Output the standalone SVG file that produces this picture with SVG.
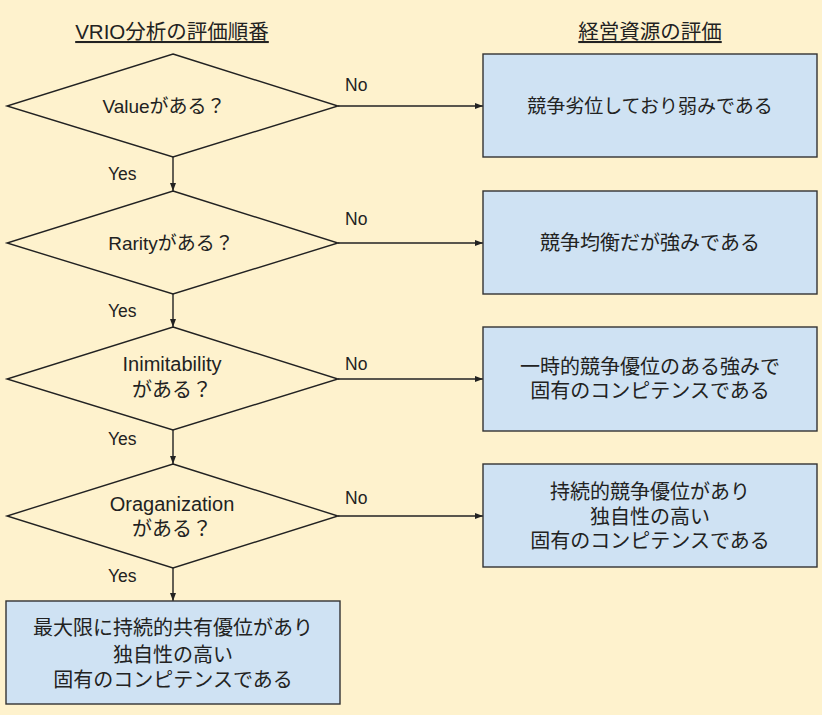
<svg xmlns="http://www.w3.org/2000/svg" width="822" height="715" viewBox="0 0 822 715">
<style>
.bg{fill:#fef2cd}
.dia{fill:#fef2cd;stroke:#222;stroke-width:1.4}
.box{fill:#cfe2f3;stroke:#333;stroke-width:1.4}
.t{font-family:"Liberation Sans","Noto Sans CJK JP",sans-serif;font-size:20px;fill:#222;text-anchor:middle}
.s{font-size:19px}
.title{font-family:"Liberation Sans","Noto Sans CJK JP",sans-serif;font-size:20.5px;fill:#222;text-anchor:middle;text-decoration:underline}
.lbl{font-family:"Liberation Sans","Noto Sans CJK JP",sans-serif;font-size:17.5px;fill:#222}
.c{stroke:#222;stroke-width:1.4;fill:none;marker-end:url(#ah)}
</style>
<defs>
<marker id="ah" markerWidth="8" markerHeight="6" refX="8" refY="3" orient="auto" markerUnits="userSpaceOnUse">
<path d="M0,0 L8,3 L0,6 Z" fill="#222"/>
</marker>
</defs>
<rect class="bg" x="0" y="0" width="822" height="715"/>
<g id="titles">
<text class="title" x="172" y="39">VRIO分析の評価順番</text>
<text class="title" x="650" y="39">経営資源の評価</text>
</g>
<g id="connectors">
<line class="c" x1="338" y1="106" x2="483" y2="106"/>
<line class="c" x1="338" y1="243" x2="483" y2="243"/>
<line class="c" x1="338" y1="379" x2="483" y2="379"/>
<line class="c" x1="338" y1="516" x2="483" y2="516"/>
<line class="c" x1="173" y1="157" x2="173" y2="191"/>
<line class="c" x1="173" y1="294" x2="173" y2="327"/>
<line class="c" x1="173" y1="430" x2="173" y2="464"/>
<line class="c" x1="173" y1="568" x2="173" y2="601"/>
<text class="lbl" x="345" y="91">No</text>
<text class="lbl" x="345" y="225">No</text>
<text class="lbl" x="345" y="370">No</text>
<text class="lbl" x="345" y="504">No</text>
<text class="lbl" x="108" y="180">Yes</text>
<text class="lbl" x="108" y="317">Yes</text>
<text class="lbl" x="108" y="445">Yes</text>
<text class="lbl" x="108" y="582">Yes</text>
</g>
<g id="d1">
<polygon class="dia" points="173,54 338,106 173,157 7,106"/>
<text class="t s" x="164" y="113">Valueがある？</text>
</g>
<g id="d2">
<polygon class="dia" points="173,191 338,243 173,294 7,243"/>
<text class="t s" x="171" y="250">Rarityがある？</text>
</g>
<g id="d3">
<polygon class="dia" points="173,327 338,379 173,430 7,379"/>
<text class="t" x="172" y="371">Inimitability</text>
<text class="t" x="172" y="397">がある？</text>
</g>
<g id="d4">
<polygon class="dia" points="173,464 338,516 173,568 7,516"/>
<text class="t" x="172" y="511">Oraganization</text>
<text class="t" x="172" y="536">がある？</text>
</g>
<g id="b1">
<rect class="box" x="483" y="54" width="334" height="103"/>
<text class="t s" x="650" y="113">競争劣位しており弱みである</text>
</g>
<g id="b2">
<rect class="box" x="483" y="191" width="334" height="103"/>
<text class="t" x="650" y="250">競争均衡だが強みである</text>
</g>
<g id="b3">
<rect class="box" x="483" y="327" width="334" height="104"/>
<text class="t" x="650" y="374">一時的競争優位のある強みで</text>
<text class="t" x="650" y="398">固有のコンピテンスである</text>
</g>
<g id="b4">
<rect class="box" x="483" y="464" width="334" height="103"/>
<text class="t" x="650" y="499">持続的競争優位があり</text>
<text class="t" x="650" y="524">独自性の高い</text>
<text class="t" x="650" y="548">固有のコンピテンスである</text>
</g>
<g id="b5">
<rect class="box" x="6" y="601" width="334" height="103"/>
<text class="t" x="173" y="635">最大限に持続的共有優位があり</text>
<text class="t" x="173" y="662">独自性の高い</text>
<text class="t" x="173" y="687">固有のコンピテンスである</text>
</g>
</svg>
